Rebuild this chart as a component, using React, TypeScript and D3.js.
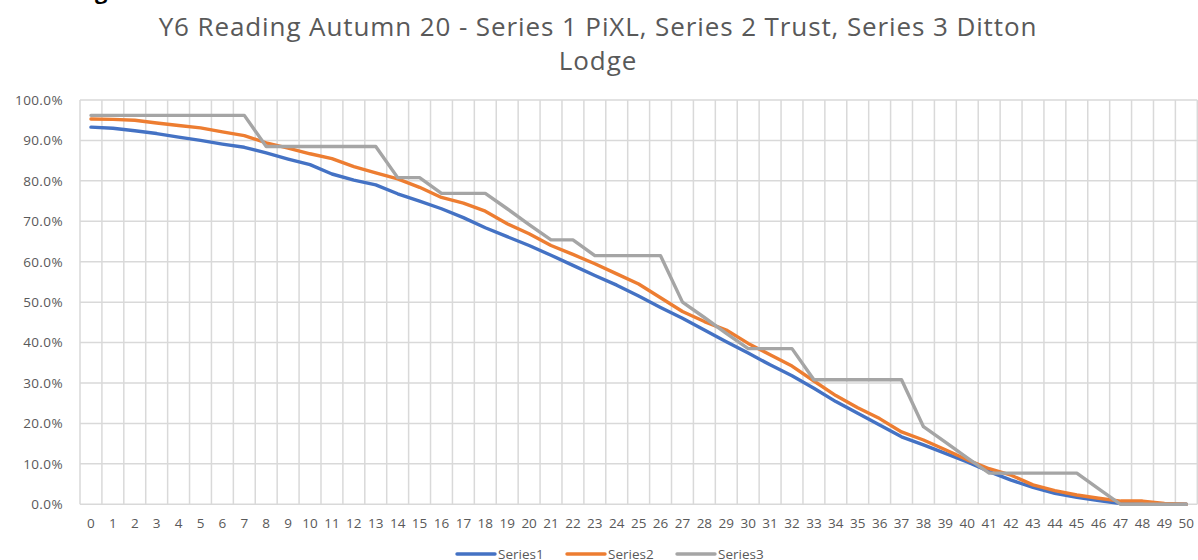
import { useEffect, useRef } from 'react'
import * as d3 from 'd3'

const categories = d3.range(0, 51).map(String)

const series1 = [
  93.3, 93.0, 92.4, 91.7, 90.8, 90.0, 89.1, 88.3, 86.9, 85.4,
  84.0, 81.7, 80.2, 79.0, 76.8, 75.0, 73.1, 70.9, 68.4, 66.2,
  64.0, 61.6, 59.1, 56.6, 54.2, 51.5, 48.7, 46.0, 43.1, 40.2,
  37.4, 34.5, 31.8, 28.7, 25.4, 22.5, 19.6, 16.7, 14.7, 12.6,
  10.5, 8.1, 6.0, 4.2, 2.7, 1.7, 0.9, 0.2, 0.1, 0, 0,
]

const series2 = [
  95.3, 95.2, 95.0, 94.3, 93.7, 93.1, 92.1, 91.2, 89.4, 88.1,
  86.7, 85.5, 83.5, 82.0, 80.5, 78.4, 75.9, 74.5, 72.5, 69.4,
  66.9, 64.0, 61.8, 59.5, 57.0, 54.5, 51.1, 47.7, 45.2, 43.1,
  39.8, 37.0, 34.2, 30.5, 26.9, 23.9, 21.2, 17.9, 15.9, 13.5,
  11.0, 8.8, 7.2, 4.8, 3.4, 2.3, 1.5, 0.8, 0.8, 0.2, 0,
]

const series3 = [
  96.2, 96.2, 96.2, 96.2, 96.2, 96.2, 96.2, 96.2, 88.5, 88.5,
  88.5, 88.5, 88.5, 88.5, 80.8, 80.8, 76.9, 76.9, 76.9, 73.1,
  69.2, 65.4, 65.4, 61.5, 61.5, 61.5, 61.5, 50.0, 46.2, 42.3,
  38.5, 38.5, 38.5, 30.8, 30.8, 30.8, 30.8, 30.8, 19.2, 15.4,
  11.5, 7.7, 7.7, 7.7, 7.7, 7.7, 3.8, 0, 0, 0, 0,
]

const seriesNames = ['Series1', 'Series2', 'Series3']
const seriesColors = ['#4472C4', '#ED7D31', '#A5A5A5']
const yTicks = d3.range(0, 11).map(d => d / 10)

const titleLines = [
  'Y6 Reading Autumn 20 - Series 1 PiXL, Series 2 Trust, Series 3 Ditton',
  'Lodge',
]

const FONT = '"Open Sans", sans-serif'

function Chart() {
  const svgRef = useRef<SVGSVGElement>(null)

  useEffect(() => {
    const width = 1198
    const height = 560
    const svg = d3.select(svgRef.current)
    svg.selectAll('*').remove()
    svg.attr('width', width).attr('height', height)

    svg.append('rect').attr('width', width).attr('height', height).attr('fill', '#fff')

    // heading fragment cut off by the top edge (only its descender shows)
    svg.append('text')
      .attr('x', 95).attr('y', -1)
      .attr('font-family', FONT).attr('font-size', 22).attr('font-weight', 700)
      .attr('fill', '#000')
      .text('g')

    const x = d3.scaleBand().domain(categories).range([80, 1197.3]).padding(0)
    const y = d3.scaleLinear().domain([0, 1]).range([504.3, 100])
    const cx = (c: string) => (x(c) as number) + x.bandwidth() / 2

    // gridlines
    const grid = svg.append('g').attr('stroke', '#D9D9D9').attr('stroke-width', 1.5)
    yTicks.forEach(t => {
      grid.append('line')
        .attr('x1', x.range()[0]).attr('x2', x.range()[1])
        .attr('y1', y(t)).attr('y2', y(t))
    })
    const bounds = categories.map(c => x(c) as number).concat([x.range()[1]])
    bounds.forEach(b => {
      grid.append('line')
        .attr('x1', b).attr('x2', b)
        .attr('y1', y(1)).attr('y2', y(0))
    })

    // y labels
    svg.append('g').selectAll('text').data(yTicks).join('text')
      .attr('x', 63).attr('y', d => y(d))
      .attr('dy', '0.36em')
      .attr('text-anchor', 'end')
      .attr('font-family', FONT).attr('font-size', 13.5).attr('fill', '#595959')
      .attr('letter-spacing', 0.4)
      .text(d => d3.format('.1%')(d))

    // x labels
    svg.append('g').selectAll('text').data(categories).join('text')
      .attr('x', d => cx(d)).attr('y', 528)
      .attr('text-anchor', 'middle')
      .attr('font-family', FONT).attr('font-size', 13.5).attr('fill', '#595959')
      .text(d => d)

    // series
    const line = d3.line<number>()
      .x((_, i) => cx(categories[i]))
      .y(d => y(d / 100))
    ;[series1, series2, series3].forEach((s, i) => {
      svg.append('path')
        .datum(s)
        .attr('d', line)
        .attr('fill', 'none')
        .attr('stroke', seriesColors[i])
        .attr('stroke-width', 3.4)
        .attr('stroke-linejoin', 'round')
        .attr('stroke-linecap', 'round')
    })

    // title
    svg.append('g').selectAll('text').data(titleLines).join('text')
      .attr('x', 598).attr('y', (_, i) => 36 + i * 34)
      .attr('text-anchor', 'middle')
      .attr('font-family', FONT).attr('font-size', 26).attr('fill', '#595959')
      .attr('letter-spacing', 0.9)
      .text(d => d)

    // legend
    const legendX = [457, 567, 677]
    const lg = svg.append('g')
    seriesNames.forEach((name, i) => {
      lg.append('line')
        .attr('x1', legendX[i]).attr('x2', legendX[i] + 38)
        .attr('y1', 554).attr('y2', 554)
        .attr('stroke', seriesColors[i]).attr('stroke-width', 3.4)
        .attr('stroke-linecap', 'round')
      lg.append('text')
        .attr('x', legendX[i] + 41).attr('y', 558.5)
        .attr('font-family', FONT).attr('font-size', 13.5).attr('fill', '#595959')
        .text(name)
    })
  }, [])

  return <svg ref={svgRef} style={{ display: 'block', position: 'absolute', left: 0, top: 0 }} />
}

export default function App() {
  return <Chart />
}
